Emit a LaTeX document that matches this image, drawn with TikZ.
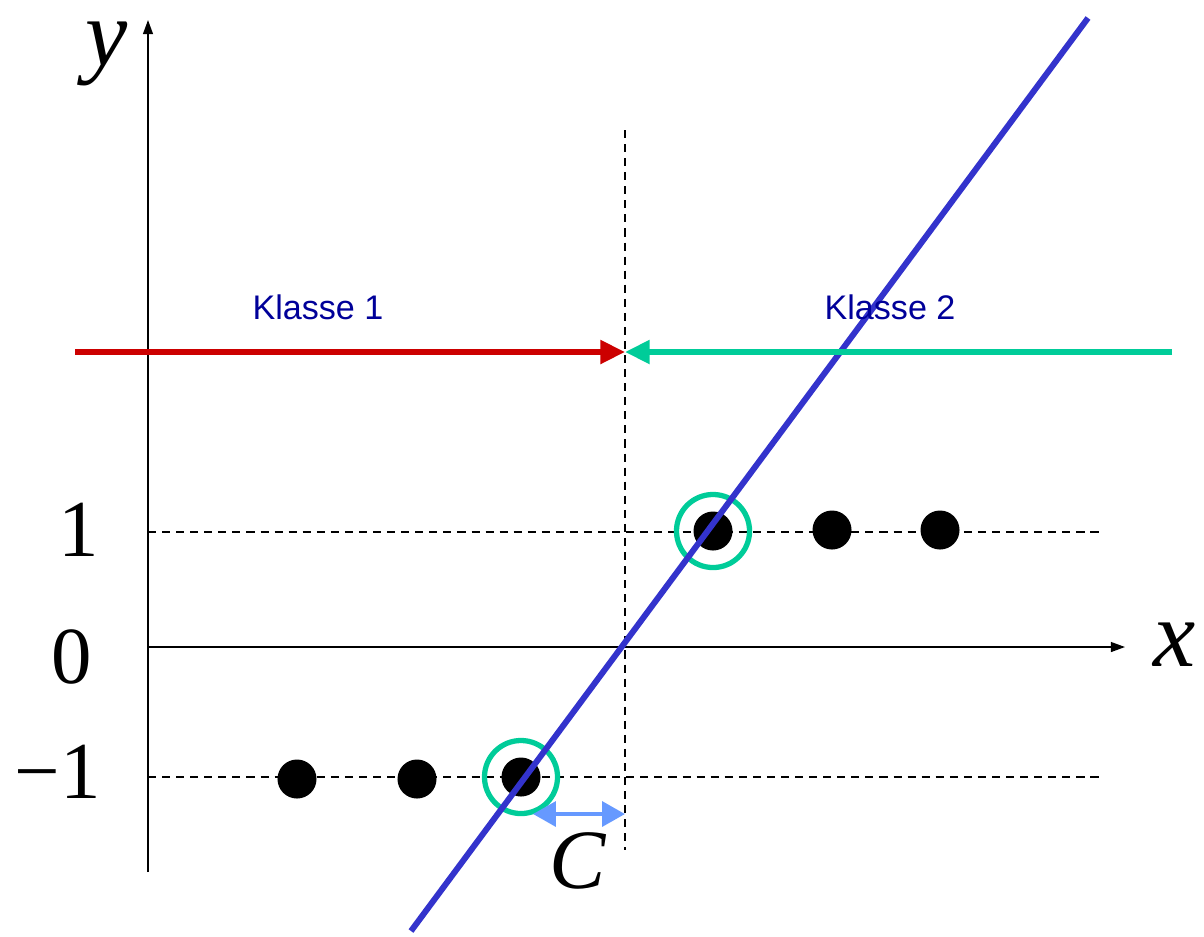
\documentclass[tikz,border=0pt]{standalone}
\usepackage{fontspec}
\setmainfont{Liberation Serif}
\setsansfont{Liberation Sans}
\usetikzlibrary{arrows.meta,positioning}
\definecolor{lineblue}{RGB}{51,51,204}
\definecolor{ringgreen}{RGB}{0,204,153}
\definecolor{arrowred}{RGB}{204,0,0}
\definecolor{textnavy}{RGB}{0,0,153}
\definecolor{gapblue}{RGB}{102,153,255}

\begin{document}
\begin{tikzpicture}[x=0.01cm, y=-0.01cm,
  axis/.style={line width=0.45pt, -{Triangle[length=4pt,width=2.8pt]}},
  guide/.style={line width=0.35pt, dash pattern=on 2.3pt off 1.7pt},
  dot/.style={circle, fill=black, minimum size=0.39cm, inner sep=0pt},
  ring/.style={circle, draw=ringgreen, line width=1.5pt, minimum size=0.73cm, inner sep=0pt},
  classarrow/.style={line width=1.6pt, -{Triangle[length=7pt,width=6.5pt]}},
  classlabel/.style={font=\sffamily\fontsize{9.7}{11}\selectfont, text=textnavy, inner sep=0pt},
  ticklabel/.style={font=\fontsize{23}{26}\selectfont, inner sep=0pt},
  varlabel/.style={font=\itshape\fontsize{27}{30}\selectfont, inner sep=0pt},
]
  \useasboundingbox (0,0) rectangle (1204,936);

  % axes
  \coordinate (origin) at (148,647);
  \coordinate (ytop) at (148,20);
  \coordinate (ybot) at (148,872);
  \coordinate (xend) at (1125,647);
  \draw[axis] (ybot) -- (ytop);
  \draw[axis] (origin) -- (xend);
  \node[varlabel] (ylab) at (107,54) {y};
  \node[varlabel] (xlab) at (1175,645) {x};

  % levels
  \node[ticklabel] (one) at (79,530) {1};
  \node[ticklabel] (zero) at (72,657) {0};
  \node[ticklabel] (minusone) at (58,772) {−1};
  \coordinate (upL) at (148,532);
  \coordinate (upR) at (1100,532);
  \coordinate (loL) at (148,777);
  \coordinate (loR) at (1100,777);
  \draw[guide] (upL) -- (upR);
  \draw[guide] (loL) -- (loR);

  % threshold
  \coordinate (cutT) at (625,130);
  \coordinate (cutB) at (625,850);
  \draw[guide] (cutT) -- (cutB);

  % samples
  \node[dot] (a1) at (297,779) {};
  \node[dot] (a2) at (417,779) {};
  \node[dot] (a3) at (521,777) {};
  \node[dot] (b1) at (713,531) {};
  \node[dot] (b2) at (832,530) {};
  \node[dot] (b3) at (940,530) {};
  \node[ring] (ra) at (a3) {};
  \node[ring] (rb) at (b1) {};

  % fitted line
  \coordinate (fitlo) at (411,931);
  \coordinate (fithi) at (1088,18);
  \draw[lineblue, line width=1.7pt] (fitlo) -- (fithi);

  % classes
  \coordinate (redstart) at (75,352);
  \coordinate (greenstart) at (1172,352);
  \coordinate (cut) at (625,352);
  \draw[classarrow, arrowred] (redstart) -- (cut);
  \draw[classarrow, ringgreen] (greenstart) -- (cut);
  \node[classlabel] (k1) at (318,307) {Klasse 1};
  \node[classlabel] (k2) at (890,307) {Klasse 2};

  % offset C
  \coordinate (gapL) at (533,814);
  \coordinate (gapR) at (625,814);
  \draw[gapblue, line width=1.2pt, {Triangle[length=6.5pt,width=7pt]}-{Triangle[length=6.5pt,width=7pt]}] (gapL) -- (gapR);
  \node[varlabel, font=\itshape\fontsize{24}{26}\selectfont] (clab) at (578,861) {C};
\end{tikzpicture}
\end{document}
